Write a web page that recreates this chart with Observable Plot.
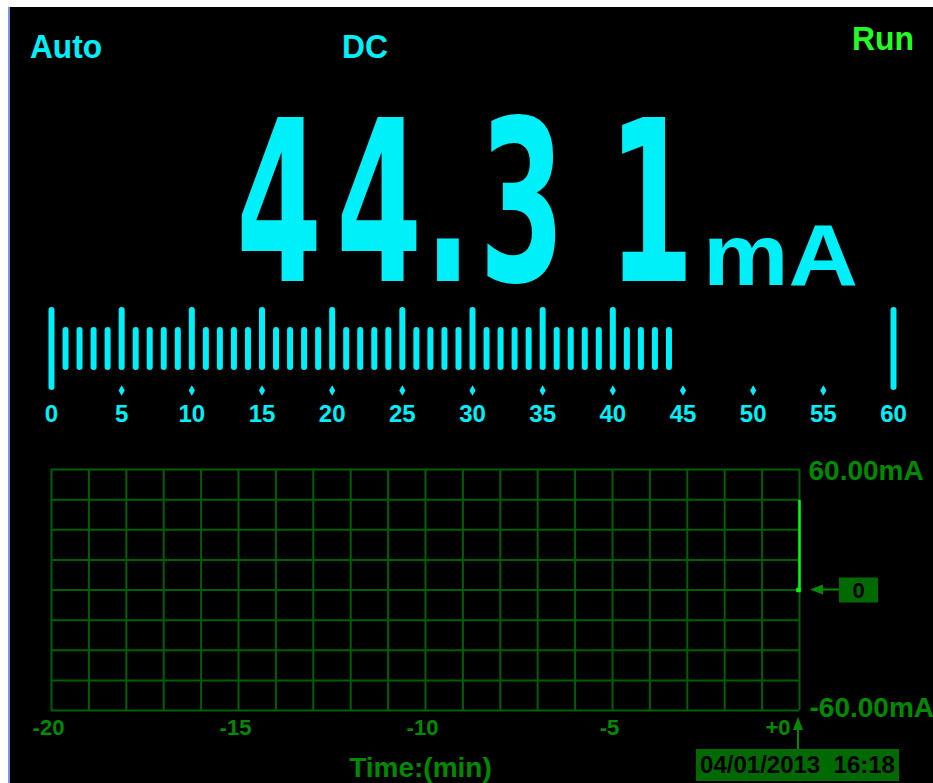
<!DOCTYPE html>
<html>
<head>
<meta charset="utf-8">
<script src="https://cdn.jsdelivr.net/npm/d3@7"></script>
<script src="https://cdn.jsdelivr.net/npm/@observablehq/plot@0.6"></script>
<style>
  html, body { margin: 0; padding: 0; background: #fff; overflow: hidden; }
  #screen { position: relative; width: 933px; height: 783px; }
  #bg { position: absolute; left: 8px; top: 7px; width: 923px; height: 776px; background: #000; border-left: 2px solid #7896e0; }
  #head { position: absolute; left: 0; top: 0; pointer-events: none; }
  #gauge { position: absolute; left: 0; top: 300px; }
  #trend { position: absolute; left: 0; top: 440px; }
  svg text { font-family: "Liberation Sans", Arial, sans-serif; }
</style>
</head>
<body>
<div id="screen">
  <div id="bg"></div>
  <svg id="head" width="933" height="440"></svg>
  <div id="gauge"></div>
  <div id="trend"></div>
</div>
<script>
// ---------- data ----------
const modeLabel = "Auto";
const couplingLabel = "DC";
const statusLabel = "Run";
const readingText = "44.31";
const reading = 44.31;
const unitLabel = "mA";

const gaugeMax = 60;
const gaugeLabels = [0, 5, 10, 15, 20, 25, 30, 35, 40, 45, 50, 55, 60];
const gaugeDots = [5, 10, 15, 20, 25, 30, 35, 40, 45, 50, 55];

const trendTime = [0, 0];          // minutes
const trendValue = [0, 44.31];     // mA
const timeTicks = [-20, -15, -10, -5, 0];
const timeTickLabels = ["-20", "-15", "-10", "-5", "+0"];
const rangeValues = [60, -60];
const rangeLabels = ["60.00mA", "-60.00mA"];
const gridTime = d3.range(-20, 1, 1);
const gridValue = d3.range(-60, 61, 15);
const zeroLabel = "0";
const timeAxisLabel = "Time:(min)";
const timestamp = "04/01/2013  16:18";

// ---------- colours ----------
const cyan = "#00f0fa";
const runGreen = "#22ff22";
const gridGreen = "#006000";
const textGreen = "#008a00";
const boxGreen = "#006a00";
const traceGreen = "#00ff00";
const font = "Liberation Sans, Arial, sans-serif";

// ---------- header texts ----------
const head = d3.select("#head");
const hdr = [
  {t: modeLabel, x: 30, y: 58, fs: 33, w: 72, c: cyan},
  {t: couplingLabel, x: 342, y: 58, fs: 33, w: 46, c: cyan},
  {t: statusLabel, x: 852, y: 50, fs: 33, w: 62, c: runGreen},
  {t: unitLabel, x: 703, y: 285, fs: 88, w: 155, c: cyan}
];
hdr.forEach(d => {
  head.append("text").attr("x", d.x).attr("y", d.y)
    .attr("font-size", d.fs).attr("font-weight", "bold")
    .attr("textLength", d.w).attr("lengthAdjust", "spacingAndGlyphs")
    .attr("fill", d.c).text(d.t);
});
// big reading: each character centred in its display cell
const sx = 0.55;
const cellCenters = [279, 379, 448, 522, 651];
head.append("text")
  .attr("transform", `scale(${sx},1)`)
  .attr("x", cellCenters.map(c => c / sx).join(" "))
  .attr("y", 281)
  .attr("text-anchor", "middle")
  .attr("font-size", 224)
  .attr("font-weight", "bold")
  .style("font-family", "'DejaVu Sans', sans-serif")
  .attr("fill", cyan)
  .text(readingText);

// ---------- analog bar gauge ----------
const lit = d3.range(1, Math.floor(reading) + 1).filter(v => v < gaugeMax);
const litMajor = lit.filter(v => v % 5 === 0);
const litMinor = lit.filter(v => v % 5 !== 0);

const gauge = Plot.plot({
  width: 933, height: 130,
  marginLeft: 51, marginRight: 40, marginTop: 0, marginBottom: 0,
  style: {background: "transparent", overflow: "visible"},
  x: {domain: [0, gaugeMax], axis: null},
  marks: [
    Plot.tickX([0, gaugeMax], {x: d => d, stroke: cyan, strokeWidth: 6, strokeLinecap: "round", insetTop: 10, insetBottom: 43}),
    Plot.tickX(litMajor, {x: d => d, stroke: cyan, strokeWidth: 6, strokeLinecap: "round", insetTop: 10, insetBottom: 63}),
    Plot.tickX(litMinor, {x: d => d, stroke: cyan, strokeWidth: 6, strokeLinecap: "round", insetTop: 30, insetBottom: 63}),
    Plot.dot(gaugeDots, {x: d => d, frameAnchor: "top", dy: 90, symbol: "diamond", r: 3.2, fill: cyan, stroke: "none"}),
    Plot.text(gaugeLabels, {x: d => d, text: d => String(d), frameAnchor: "top", dy: 114, lineAnchor: "middle",
      fill: cyan, fontSize: 24, fontWeight: "bold", fontFamily: "DejaVu Sans Mono, monospace"})
  ]
});
document.getElementById("gauge").appendChild(gauge);

// ---------- trend chart ----------
const trend = trendTime.map((t, i) => ({t, v: trendValue[i]}));

function markers(index, scales) {
  const x0 = scales.x(0), y0 = scales.y(0), yB = scales.y(-60);
  const g = d3.create("svg:g");
  // zero-level pointer
  g.append("line").attr("x1", x0 + 20).attr("x2", x0 + 41).attr("y1", y0).attr("y2", y0)
    .attr("stroke", textGreen).attr("stroke-width", 2);
  g.append("path").attr("d", `M${x0 + 11},${y0}L${x0 + 24},${y0 - 5}L${x0 + 24},${y0 + 5}Z`).attr("fill", textGreen);
  g.append("rect").attr("x", x0 + 40).attr("y", y0 - 12).attr("width", 39).attr("height", 25).attr("fill", boxGreen);
  // time cursor
  g.append("line").attr("x1", x0 - 1).attr("x2", x0 - 1).attr("y1", yB + 18).attr("y2", yB + 40)
    .attr("stroke", textGreen).attr("stroke-width", 2);
  g.append("path").attr("d", `M${x0 - 1},${yB + 7}L${x0 - 6},${yB + 20}L${x0 + 4},${yB + 20}Z`).attr("fill", textGreen);
  g.append("rect").attr("x", x0 - 103).attr("y", yB + 39).attr("width", 203).attr("height", 32).attr("fill", boxGreen);
  return g.node();
}

const chart = Plot.plot({
  width: 933, height: 343,
  marginLeft: 51, marginRight: 134, marginTop: 29, marginBottom: 73,
  style: {background: "transparent", overflow: "visible"},
  x: {domain: [-20, 0], axis: null},
  y: {domain: [-60, 60], axis: null},
  marks: [
    Plot.ruleX(gridTime, {x: d => d, stroke: gridGreen, strokeWidth: 2}),
    Plot.ruleY(gridValue, {y: d => d, stroke: gridGreen, strokeWidth: 2}),
    Plot.line(trend, {x: "t", y: "v", stroke: traceGreen, strokeWidth: 2.5}),
    Plot.dot(trend.slice(0, 1), {x: "t", y: "v", symbol: "square", r: 2.5, fill: traceGreen, stroke: "none", dx: -1}),
    Plot.text(timeTicks.slice(0, 4), {x: d => d, text: (d, i) => timeTickLabels[i], frameAnchor: "bottom", dy: 17, dx: -3,
      lineAnchor: "middle", fill: textGreen, fontSize: 22, fontWeight: "bold", fontFamily: font}),
    Plot.text(timeTicks.slice(4), {x: d => d, text: () => timeTickLabels[4], frameAnchor: "bottom", dy: 17, dx: -9,
      textAnchor: "end", lineAnchor: "middle", fill: textGreen, fontSize: 22, fontWeight: "bold", fontFamily: font}),
    Plot.text(rangeValues.slice(0, 1), {x: () => 0, y: d => d, text: () => rangeLabels[0], textAnchor: "start", dx: 9, dy: 2,
      lineAnchor: "middle", fill: textGreen, fontSize: 28, fontWeight: "bold", fontFamily: font}),
    Plot.text(rangeValues.slice(1), {x: () => 0, y: d => d, text: () => rangeLabels[1], textAnchor: "start", dx: 10, dy: -2,
      lineAnchor: "middle", fill: textGreen, fontSize: 28, fontWeight: "bold", fontFamily: font}),
    markers,
    Plot.text([0], {x: () => 0, y: d => d, text: () => zeroLabel, dx: 59, dy: 1, lineAnchor: "middle",
      fill: "#000", fontSize: 22, fontWeight: "bold", fontFamily: font}),
    Plot.text([0], {x: () => 0, text: () => timestamp, frameAnchor: "bottom", dx: -2, dy: 55, lineAnchor: "middle",
      fill: "#000", fontSize: 24, fontWeight: "bold", fontFamily: font}),
    Plot.text([-10], {x: d => d, text: () => timeAxisLabel, frameAnchor: "bottom", dx: -5, dy: 58, lineAnchor: "middle",
      fill: textGreen, fontSize: 28, fontWeight: "bold", fontFamily: font})
  ]
});
document.getElementById("trend").appendChild(chart);
</script>
</body>
</html>
